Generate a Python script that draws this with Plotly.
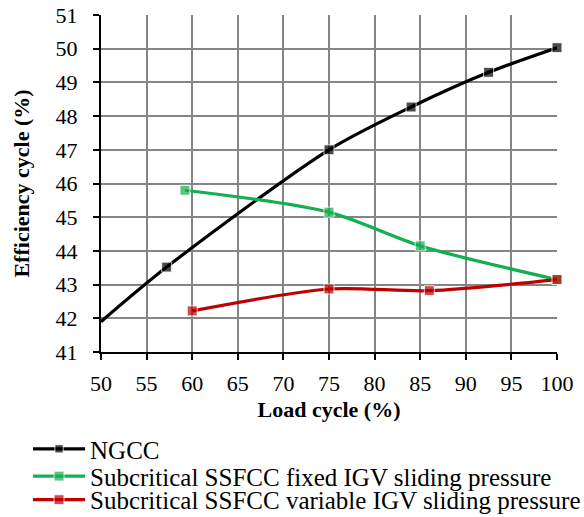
import plotly.graph_objects as go

# Data
ngcc_x = [50, 57.2, 75, 84, 92.5, 100]
ngcc_y = [41.9, 43.52, 47.0, 48.27, 49.3, 50.03]

fixed_x = [59.2, 75, 85, 100]
fixed_y = [45.8, 45.15, 44.15, 43.15]

var_x = [60, 75, 86, 100]
var_y = [42.22, 42.87, 42.82, 43.15]

names = ["NGCC",
         "Subcritical SSFCC fixed IGV sliding pressure",
         "Subcritical SSFCC variable IGV sliding pressure"]
colors = ["#000000", "#12b050", "#c00000"]

x_ticks = [50, 55, 60, 65, 70, 75, 80, 85, 90, 95, 100]
y_ticks = [41, 42, 43, 44, 45, 46, 47, 48, 49, 50, 51]

FONT = "Liberation Serif, Times New Roman, serif"
legend_ids = ["legend", "legend2", "legend3"]
legend_y = [-0.288, -0.369, -0.439]

fig = go.Figure()
series = [(ngcc_x, ngcc_y), (fixed_x, fixed_y), (var_x, var_y)]
for i, ((xs, ys), name, col) in enumerate(zip(series, names, colors)):
    sizes = [10] * len(xs)
    if i == 0:
        sizes[0] = 0
    fig.add_trace(go.Scatter(
        x=xs, y=ys, name=name, mode="lines+markers",
        line=dict(color=col, width=3.2, shape="spline", smoothing=0.8),
        marker=dict(symbol="square", size=sizes, color=col),
        cliponaxis=False, legend=legend_ids[i],
    ))

axis_common = dict(
    showgrid=True, gridcolor="#858585", gridwidth=1.5,
    showline=True, linecolor="#000000", linewidth=2,
    ticks="outside", ticklen=6, tickcolor="#000000", tickwidth=2,
    zeroline=False,
    tickfont=dict(family=FONT, size=22, color="#000000"),
)

fig.update_xaxes(
    range=[50, 100], tickvals=x_ticks, ticklabelstandoff=5,
    title=dict(text="<b>Load cycle (%)</b>", font=dict(family=FONT, size=22, color="#000000"), standoff=6),
    **axis_common,
)
fig.update_yaxes(
    range=[41, 51], tickvals=y_ticks, ticklabelstandoff=11,
    title=dict(text="<b>Efficiency cycle (%)</b>", font=dict(family=FONT, size=22, color="#000000"), standoff=20),
    **axis_common,
)

legend_common = dict(
    x=-0.16, xanchor="left", yanchor="middle",
    font=dict(family=FONT, size=25, color="#000000"),
    itemwidth=52, bgcolor="rgba(0,0,0,0)",
)

fig.update_layout(
    width=584, height=517,
    margin=dict(l=101, r=27, t=15, b=165, autoexpand=False),
    paper_bgcolor="white", plot_bgcolor="white",
    font=dict(family=FONT, color="#000000"),
    legend=dict(y=legend_y[0], **legend_common),
    legend2=dict(y=legend_y[1], **legend_common),
    legend3=dict(y=legend_y[2], **legend_common),
    showlegend=True,
)

fig.write_html("out.html", config={"displayModeBar": False},
               post_script="document.body.style.margin='0';")
